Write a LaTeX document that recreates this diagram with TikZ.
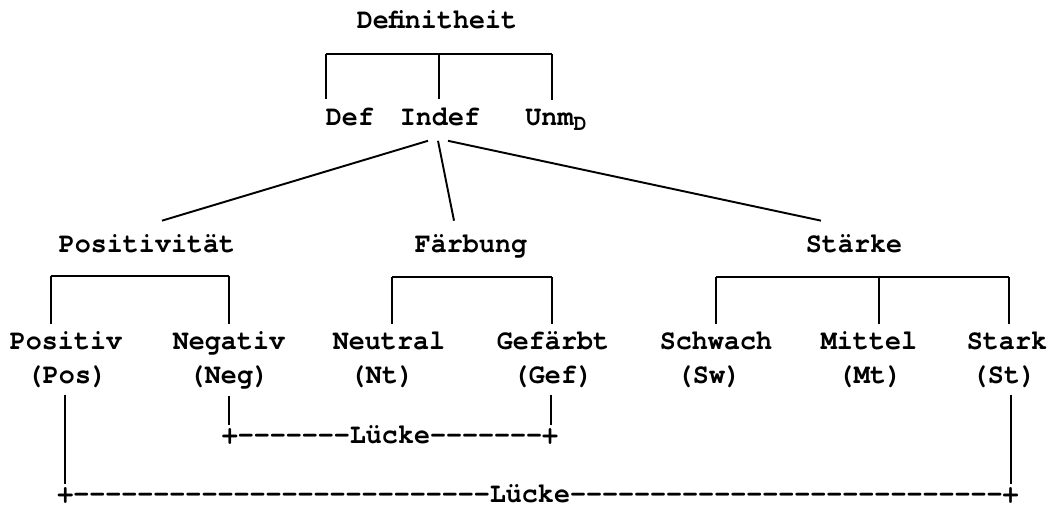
\documentclass[tikz,border=0pt]{standalone}
\usepackage{fontspec}
\setmonofont[BoldFont=texgyrecursor-bold.otf, FakeStretch=0.95]{texgyrecursor-regular.otf}
\usetikzlibrary{calc}

\begin{document}
\begin{tikzpicture}[
  x=0.02cm, y=-0.02cm,
  font=\ttfamily\bfseries\fontsize{16}{18}\selectfont,
  every node/.style={inner sep=0pt, anchor=base},
  conn/.style={line width=1.1pt},
  leg/.style={conn, shorten >=#1},
  leg/.default=4pt
]
\useasboundingbox (0,0) rectangle (1056,511);

% top level
\node (defi)  at (437,28)  {Definitheit};
\node (def)   at (350,125) {Def};
\node (indef) at (440,125) {Indef};
\node (unm)   at (556,125) {Unm\raisebox{-0.45ex}{\fontsize{13}{12}\selectfont D}};

\coordinate (d1) at (326,54);
\coordinate (d2) at (439,54);
\coordinate (d3) at (552,54);
\draw[conn] (d1) -- (d3);
\draw[leg=4.5pt] (d1) -- (d1 |- def.north);
\draw[leg=4.5pt] (d2) -- (d2 |- indef.north);
\draw[leg=4.5pt] (d3) -- (d3 |- unm.north);

% second level
\node (posi)    at (147,252) {Positivität};
\node (faerb)   at (471,252) {Färbung};
\node (staerke) at (854,252) {Stärke};

\draw[conn] ($(indef.south)+(-12,15)$) -- ($(posi.north)+(15,-13)$);
\draw[conn] ($(indef.south)+(-2,15)$)  -- ($(faerb.north)+(-17,-13)$);
\draw[conn] ($(indef.south)+(8,15)$)   -- ($(staerke.north)+(-33,-13)$);

% values
\node (positiv) at (66,349)   {Positiv};
\node (negativ) at (229,349)  {Negativ};
\node (neutral) at (389,349)  {Neutral};
\node (gefaerbt) at (553,349) {Gefärbt};
\node (schwach) at (716,349)  {Schwach};
\node (mittel)  at (869,349)  {Mittel};
\node (stark)   at (1007,349) {Stark};

\node (pos) at (67,383)   {(Pos)};
\node (neg) at (229,383)  {(Neg)};
\node (nt)  at (382,383)  {(Nt)};
\node (gef) at (553,383)  {(Gef)};
\node (sw)  at (709,383)  {(Sw)};
\node (mt)  at (870,383)  {(Mt)};
\node (st)  at (1004,383) {(St)};

\coordinate (a1) at (51,276);
\coordinate (a2) at (229,276);
\draw[conn] (a1) -- (a2);
\draw[leg] (a1) -- (a1 |- positiv.north);
\draw[leg] (a2) -- (a2 |- negativ.north);

\coordinate (b1) at (392,277);
\coordinate (b2) at (552,277);
\draw[conn] (b1) -- (b2);
\draw[leg] (b1) -- (b1 |- neutral.north);
\draw[leg] (b2) -- (b2 |- gefaerbt.north);

\coordinate (c1) at (716,277);
\coordinate (c2) at (879,277);
\coordinate (c3) at (1009,277);
\draw[conn] (c1) -- (c3);
\draw[leg] (c1) -- (c1 |- schwach.north);
\draw[leg] (c2) -- (c2 |- mittel.north);
\draw[leg] (c3) -- (c3 |- stark.north);

% gaps
\node (luecke1) at (390,443) {+-------Lücke-------+};
\node (luecke2) at (538,502) {+--------------------------Lücke---------------------------+};

\coordinate (g1) at ($(luecke1.west)+(8,0)$);
\coordinate (g2) at ($(luecke1.east)+(-8,0)$);
\coordinate (g3) at ($(luecke2.west)+(8,0)$);
\coordinate (g4) at ($(luecke2.east)+(-8,0)$);
\draw[conn, shorten <=4pt] (g1 |- neg.south) -- (g1 |- luecke1.north);
\draw[conn, shorten <=4pt] (g2 |- gef.south) -- (g2 |- luecke1.north);
\draw[conn, shorten <=4pt] (g3 |- pos.south) -- (g3 |- luecke2.north);
\draw[conn, shorten <=4pt] (g4 |- st.south)  -- (g4 |- luecke2.north);

\end{tikzpicture}
\end{document}
